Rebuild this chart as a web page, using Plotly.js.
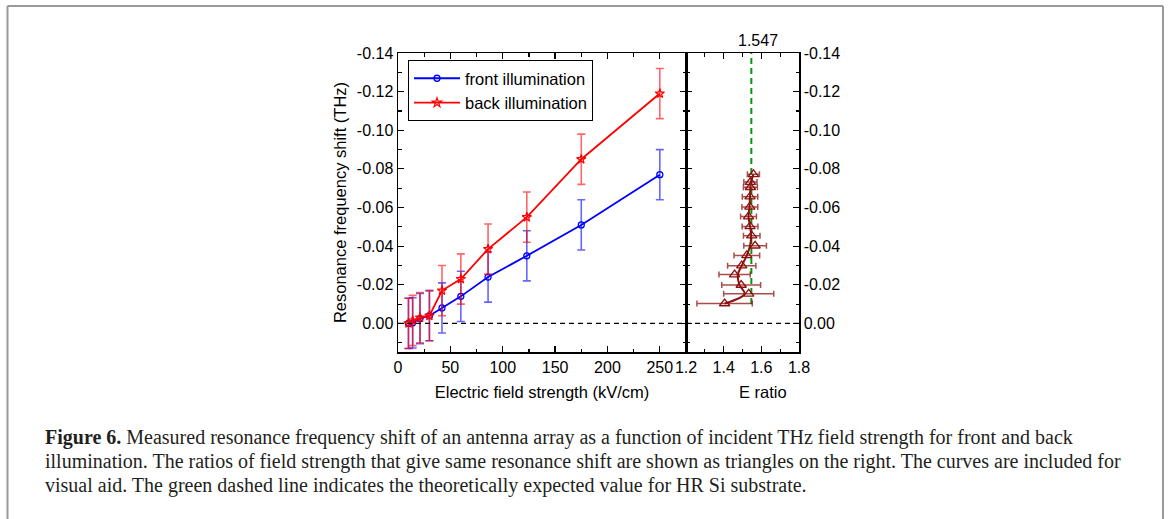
<!DOCTYPE html>
<html>
<head>
<meta charset="utf-8">
<script src="https://cdn.plot.ly/plotly-3.0.1.min.js"></script>
<style>
  html, body { margin: 0; padding: 0; background: #ffffff; }
  #chart { width: 1170px; height: 519px; }
</style>
</head>
<body>
<div id="chart"></div>
<script>
// ---- Data ----
const fieldStrength = [10, 14, 21, 30, 42, 60, 86, 123, 175, 250];            // kV/cm
const frontShift    = [0.000, -0.0003, -0.0025, -0.004, -0.008, -0.014, -0.024, -0.035, -0.051, -0.077]; // THz
const frontErr      = [0.013, 0.013, 0.013, 0.013, 0.013, 0.013, 0.013, 0.013, 0.013, 0.013];
const backShift     = [0.000, -0.0015, -0.003, -0.004, -0.017, -0.023, -0.0385, -0.055, -0.085, -0.119];  // THz
const backErr       = [0.013, 0.013, 0.013, 0.013, 0.013, 0.013, 0.013, 0.013, 0.013, 0.013];

const ratioShift = [-0.0103, -0.0153, -0.0199, -0.0253, -0.0299, -0.0352, -0.0402, -0.0454, -0.0502, -0.0553, -0.0603, -0.0656, -0.0705, -0.0732, -0.0772];
const eRatio     = [1.405, 1.533, 1.493, 1.458, 1.496, 1.523, 1.567, 1.549, 1.540, 1.532, 1.539, 1.540, 1.542, 1.542, 1.558];
const eRatioErr  = [0.147, 0.133, 0.103, 0.083, 0.075, 0.068, 0.060, 0.044, 0.042, 0.042, 0.042, 0.041, 0.037, 0.035, 0.032];
const curveRatio = [1.405, 1.511, 1.484, 1.475, 1.496, 1.523, 1.540, 1.546, 1.540, 1.532, 1.537, 1.540, 1.542, 1.545, 1.558];

const theoryRatio = 1.547;
const theoryShiftSpan = [-0.010, -0.140];
const zeroLineX = [0, 275];

const yTickVals = [0, -0.02, -0.04, -0.06, -0.08, -0.10, -0.12, -0.14];
const yTickText = ['0.00', '-0.02', '-0.04', '-0.06', '-0.08', '-0.10', '-0.12', '-0.14'];

const captionLines = [
  '<b>Figure 6.</b> Measured resonance frequency shift of an antenna array as a function of incident THz field strength for front and back',
  'illumination. The ratios of field strength that give same resonance shift are shown as triangles on the right. The curves are included for',
  'visual aid. The green dashed line indicates the theoretically expected value for HR Si substrate.'
];

// ---- Geometry helpers (pixels -> paper) ----
const W = 1170, H = 519;
const px = v => v / W;
const py = v => 1 - v / H;

const traces = [
  {
    x: fieldStrength, y: frontShift, name: 'front illumination',
    type: 'scatter', mode: 'lines+markers', xaxis: 'x', yaxis: 'y',
    line: { color: '#0000ff', width: 1.8 },
    marker: { symbol: 'circle-open', size: 6, color: '#0000ff', line: { width: 1.3 } },
    error_y: { type: 'data', array: frontErr, visible: true, color: 'rgba(0,0,255,0.6)', thickness: 1.6, width: 4 }
  },
  {
    x: fieldStrength, y: backShift, name: 'back illumination',
    type: 'scatter', mode: 'lines+markers', xaxis: 'x', yaxis: 'y',
    line: { color: '#ff0000', width: 1.8 },
    marker: { symbol: 'star-open', size: 7, color: '#ff0000', line: { width: 1.2 } },
    error_y: { type: 'data', array: backErr, visible: true, color: 'rgba(255,0,0,0.6)', thickness: 1.6, width: 4 }
  },
  {
    x: zeroLineX, y: [0, 0], type: 'scatter', mode: 'lines', xaxis: 'x', yaxis: 'y',
    line: { color: '#000', width: 1.2, dash: '5px,4px' }, showlegend: false, hoverinfo: 'skip'
  },
  {
    x: [1.2, 1.8], y: [0, 0], type: 'scatter', mode: 'lines', xaxis: 'x2', yaxis: 'y2',
    line: { color: '#000', width: 1.2, dash: '5px,4px' }, showlegend: false, hoverinfo: 'skip'
  },
  {
    x: [theoryRatio, theoryRatio], y: theoryShiftSpan, type: 'scatter', mode: 'lines', xaxis: 'x2', yaxis: 'y2',
    line: { color: '#0a960a', width: 2, dash: '6px,4px' }, showlegend: false, hoverinfo: 'skip'
  },
  {
    x: curveRatio, y: ratioShift, type: 'scatter', mode: 'lines', xaxis: 'x2', yaxis: 'y2',
    line: { color: '#8b1010', width: 2, shape: 'spline', smoothing: 1 }, showlegend: false
  },
  {
    x: eRatio, y: ratioShift, type: 'scatter', mode: 'markers', xaxis: 'x2', yaxis: 'y2',
    marker: { symbol: 'triangle-up-open', size: 9, color: '#8b1010', line: { width: 1.3 } },
    error_x: { type: 'data', array: eRatioErr, visible: true, color: 'rgba(139,16,16,0.75)', thickness: 1.5, width: 3 },
    showlegend: false
  }
];

const axisCommon = {
  showline: true, linecolor: '#000', linewidth: 1.5, mirror: 'allticks',
  ticks: 'inside', ticklen: 6, tickwidth: 1.2, tickcolor: '#000',
  showgrid: false, zeroline: false,
  tickfont: { size: 16, color: '#000' }
};

const yDomain = [py(352), py(53)];
const yRange = [0.0148, -0.14];

const layout = {
  width: W, height: H,
  margin: { l: 0, r: 0, t: 0, b: 0 },
  paper_bgcolor: '#ffffff', plot_bgcolor: '#ffffff',
  font: { family: 'Liberation Sans, Arial, sans-serif', size: 16, color: '#000' },
  showlegend: true,
  legend: {
    x: px(408), y: py(60), xanchor: 'left', yanchor: 'top',
    bordercolor: '#000', borderwidth: 1, bgcolor: '#fff',
    font: { size: 16.5 }, tracegroupgap: 0, itemwidth: 46
  },
  xaxis: Object.assign({}, axisCommon, {
    domain: [px(398), px(686)], range: [0, 275], anchor: 'y',
    tick0: 0, dtick: 50,
    minor: { ticks: 'inside', ticklen: 3.5, tick0: 0, dtick: 25, tickcolor: '#000', tickwidth: 1.2 },
    title: { text: 'Electric field strength (kV/cm)', font: { size: 16.5 }, standoff: 11 }
  }),
  yaxis: Object.assign({}, axisCommon, {
    domain: yDomain, range: yRange, anchor: 'x',
    tickmode: 'array', tickvals: yTickVals, ticktext: yTickText,
    minor: { tickmode: 'linear', ticks: 'inside', ticklen: 3.5, tick0: 0, dtick: 0.01, tickcolor: '#000', tickwidth: 1.2 },
    title: { text: 'Resonance frequency shift (THz)', font: { size: 16.5 }, standoff: 6 }
  }),
  xaxis2: Object.assign({}, axisCommon, {
    domain: [px(686), px(799)], range: [1.2, 1.8], anchor: 'y2',
    tick0: 1.2, dtick: 0.2, tickformat: '.1f',
    minor: { ticks: 'inside', ticklen: 3.5, tick0: 1.2, dtick: 0.1, tickcolor: '#000', tickwidth: 1.2 }
  }),
  yaxis2: Object.assign({}, axisCommon, {
    domain: yDomain, range: yRange, anchor: 'x2', side: 'right',
    tickmode: 'array', tickvals: yTickVals, ticktext: yTickText,
    minor: { tickmode: 'linear', ticks: 'inside', ticklen: 3.5, tick0: 0, dtick: 0.01, tickcolor: '#000', tickwidth: 1.2 }
  }),
  annotations: [
    { text: 'E ratio', xref: 'paper', yref: 'paper', x: px(762.5), y: py(392),
      xanchor: 'center', yanchor: 'middle', showarrow: false, font: { size: 16.5 } },
    { text: String(theoryRatio), xref: 'x2', yref: 'paper', x: theoryRatio, xshift: 7, y: py(40),
      xanchor: 'center', yanchor: 'middle', showarrow: false, font: { size: 16 } }
  ].concat(captionLines.map((t, i) => ({
    text: t, xref: 'paper', yref: 'paper', x: px(43), y: py(437 + 24 * i),
    xanchor: 'left', yanchor: 'middle', showarrow: false, align: 'left',
    font: { family: 'Liberation Serif, Times New Roman, serif', size: 20, color: '#231f20' }
  }))),
  shapes: [
    { type: 'line', xref: 'paper', yref: 'paper', x0: px(7.5), x1: px(1163), y0: py(6), y1: py(6), line: { color: '#999', width: 2 } },
    { type: 'line', xref: 'paper', yref: 'paper', x0: px(7.5), x1: px(7.5), y0: py(6), y1: 0, line: { color: '#999', width: 2 } },
    { type: 'line', xref: 'paper', yref: 'paper', x0: px(1163), x1: px(1163), y0: py(6), y1: 0, line: { color: '#999', width: 2 } }
  ]
};

Plotly.newPlot('chart', traces, layout, { staticPlot: true, displayModeBar: false });
</script>
</body>
</html>
